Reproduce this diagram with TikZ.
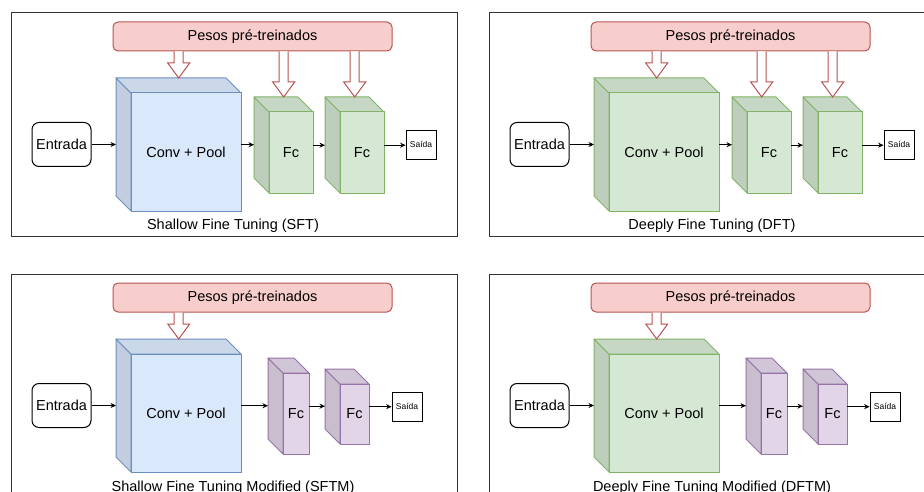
\documentclass[tikz,border=0pt]{standalone}
\usepackage{fontspec}
\setmainfont{Liberation Sans}
\usetikzlibrary{arrows.meta,calc}
\definecolor{azulF}{HTML}{DAE8FC}
\definecolor{azulD}{HTML}{6C8EBF}
\definecolor{verdeF}{HTML}{D5E8D4}
\definecolor{verdeD}{HTML}{82B366}
\definecolor{roxoF}{HTML}{E1D5E7}
\definecolor{roxoD}{HTML}{9673A6}
\definecolor{pesoF}{HTML}{F8CECC}
\definecolor{pesoD}{HTML}{B85450}

\tikzset{
  txt/.style={font=\fontsize{14.5}{17}\selectfont},
  moldura/.style={draw=black!80, line width=1pt},
  pesos/.style={txt, draw=pesoD, fill=pesoF, line width=1pt, rounded corners=5pt, minimum width=279pt, minimum height=29pt, inner sep=0},
  entrada/.style={txt, draw=black, line width=1pt, rounded corners=7pt, minimum width=59pt, minimum height=44pt, inner sep=0},
  saida/.style={draw=black, line width=0.8pt, font=\fontsize{8.5}{10}\selectfont, minimum width=30pt, minimum height=29pt, inner sep=0},
  liga/.style={line width=1pt, -{Stealth[length=5.5pt,width=5pt]}},
  oco/.style={draw=pesoD, fill=white, line width=1pt, line join=miter},
}

% cubo: nome, x0, y0, largura, altura, cor, texto
\newcommand{\cubo}[7]{%
\node[inner sep=0, minimum width=#4pt, minimum height=#5pt, anchor=north west] (#1) at (#2,#3) {};%
\filldraw[fill=#6F!89!black, draw=#6D, line width=1pt, line join=round] (#2,#3) -- ({#2+15},{#3+15}) -- ({#2+15},{#3+#5}) -- (#2,{#3+#5-15}) -- cycle;%
\filldraw[fill=#6F!93!black, draw=#6D, line width=1pt, line join=round] (#2,#3) -- ({#2+#4-15},#3) -- ({#2+#4},{#3+15}) -- ({#2+15},{#3+15}) -- cycle;%
\filldraw[fill=#6F, draw=#6D, line width=1pt] ({#2+15},{#3+15}) rectangle ({#2+#4},{#3+#5});%
\node[txt] at ({#2+15+(#4-15)/2},{#3+15+(#5-15)/2}) {#7};%
}

% seta oca dos pesos: de, para
\newcommand{\oca}[2]{%
\filldraw[oco] let \p1=(#1.south), \p2=(#2.north) in
  (\x2-4.5pt,\y1) -- (\x2-4.5pt,\y2+15pt) -- (\x2-11pt,\y2+15pt) -- (\x2,\y2)
  -- (\x2+11pt,\y2+15pt) -- (\x2+4.5pt,\y2+15pt) -- (\x2+4.5pt,\y1);%
}

\begin{document}
\begin{tikzpicture}[x=1pt, y=-1pt]
\clip (0,0) rectangle (924,492);
\fill[white] (0,0) rectangle (924,492);

% SFT
\begin{scope}
\draw[moldura] (11,13) rectangle (457,236);
\node[pesos] (pesos1) at (252.5,36.5) {Pesos pré-treinados};
\node[entrada] (entrada1) at (61.5,144.5) {Entrada};
\cubo{conv1}{116}{78}{125}{133}{azul}{Conv + Pool}
\cubo{fc1a}{254}{97}{59}{96}{verde}{Fc}
\cubo{fc1b}{325}{97}{59}{96}{verde}{Fc}
\node[saida] (saida1) at (421,144.5) {Saída};
\oca{pesos1}{conv1}
\oca{pesos1}{fc1a}
\oca{pesos1}{fc1b}
\draw[liga] (entrada1.east) -- (entrada1.east -| conv1.west);
\draw[liga] (conv1.east) -- (conv1.east -| fc1a.west);
\draw[liga] (fc1a.east) -- (fc1a.east -| fc1b.west);
\draw[liga] (fc1b.east) -- (fc1b.east -| saida1.west);
\node[txt, anchor=base] (rot1) at (233,229) {Shallow Fine Tuning (SFT)};
\end{scope}

% DFT
\begin{scope}[shift={(478,0)}]
\draw[moldura] (11,13) rectangle (457,236);
\node[pesos] (pesos2) at (252.5,36.5) {Pesos pré-treinados};
\node[entrada] (entrada2) at (61.5,144.5) {Entrada};
\cubo{conv2}{116}{78}{125}{133}{verde}{Conv + Pool}
\cubo{fc2a}{254}{97}{59}{96}{verde}{Fc}
\cubo{fc2b}{325}{97}{59}{96}{verde}{Fc}
\node[saida] (saida2) at (421,144.5) {Saída};
\oca{pesos2}{conv2}
\oca{pesos2}{fc2a}
\oca{pesos2}{fc2b}
\draw[liga] (entrada2.east) -- (entrada2.east -| conv2.west);
\draw[liga] (conv2.east) -- (conv2.east -| fc2a.west);
\draw[liga] (fc2a.east) -- (fc2a.east -| fc2b.west);
\draw[liga] (fc2b.east) -- (fc2b.east -| saida2.west);
\node[txt, anchor=base] (rot2) at (234,229) {Deeply Fine Tuning (DFT)};
\end{scope}

% SFTM
\begin{scope}[shift={(0,261)}]
\draw[moldura] (11,13) rectangle (457,236);
\node[pesos] (pesos3) at (252.5,36.5) {Pesos pré-treinados};
\node[entrada] (entrada3) at (61.5,144.5) {Entrada};
\cubo{conv3}{116}{78}{125}{133}{azul}{Conv + Pool}
\cubo{fc3a}{268}{97}{41}{96}{roxo}{Fc}
\cubo{fc3b}{325}{108}{44}{75}{roxo}{Fc}
\node[saida] (saida3) at (407,145.5) {Saída};
\oca{pesos3}{conv3}
\draw[liga] (entrada3.east) -- (entrada3.east -| conv3.west);
\draw[liga] (conv3.east) -- (conv3.east -| fc3a.west);
\draw[liga] (fc3a.east) -- (fc3a.east -| fc3b.west);
\draw[liga] (fc3b.east) -- (fc3b.east -| saida3.west);
\node[txt, anchor=base] (rot3) at (233,230) {Shallow Fine Tuning Modified (SFTM)};
\end{scope}

% DFTM
\begin{scope}[shift={(478,261)}]
\draw[moldura] (11,13) rectangle (457,236);
\node[pesos] (pesos4) at (252.5,36.5) {Pesos pré-treinados};
\node[entrada] (entrada4) at (61.5,144.5) {Entrada};
\cubo{conv4}{116}{78}{125}{133}{verde}{Conv + Pool}
\cubo{fc4a}{268}{97}{41}{96}{roxo}{Fc}
\cubo{fc4b}{325}{108}{44}{75}{roxo}{Fc}
\node[saida] (saida4) at (407,145.5) {Saída};
\oca{pesos4}{conv4}
\draw[liga] (entrada4.east) -- (entrada4.east -| conv4.west);
\draw[liga] (conv4.east) -- (conv4.east -| fc4a.west);
\draw[liga] (fc4a.east) -- (fc4a.east -| fc4b.west);
\draw[liga] (fc4b.east) -- (fc4b.east -| saida4.west);
\node[txt, anchor=base] (rot4) at (234,230) {Deeply Fine Tuning Modified (DFTM)};
\end{scope}
\end{tikzpicture}
\end{document}
